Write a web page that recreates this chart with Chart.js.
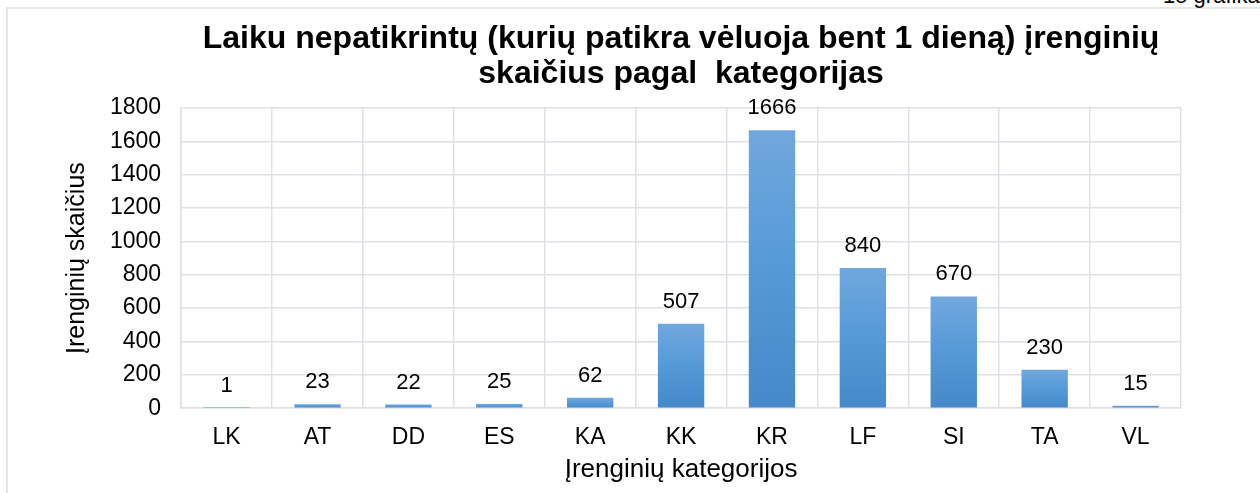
<!DOCTYPE html>
<html>
<head>
<meta charset="utf-8">
<script src="https://cdn.jsdelivr.net/npm/chart.js@4"></script>
<style>
  html, body { margin: 0; padding: 0; background: #fff; overflow: hidden; }
  #wrap { position: relative; width: 1260px; height: 493px; }
  #frame { position: absolute; left: 6px; top: 7px; width: 1300px; height: 600px; border: 2px solid #e3e6ea; box-sizing: border-box; }
  #note { position: absolute; left: 1163px; top: -17px; font: 22px "Liberation Sans", Arial, sans-serif; color: #000; white-space: nowrap; }
  canvas { position: absolute; left: 0; top: 0; }
</style>
</head>
<body>
<div id="wrap">
  <div id="frame"></div>
  <div id="note">15 grafikas</div>
  <canvas id="myChart" width="1260" height="493"></canvas>
</div>
<script>
// Kategorijos ir reikšmės
const kategorijos = ['LK', 'AT', 'DD', 'ES', 'KA', 'KK', 'KR', 'LF', 'SI', 'TA', 'VL'];
const reiksmes = [1, 23, 22, 25, 62, 507, 1666, 840, 670, 230, 15];
const yTicks = [0, 200, 400, 600, 800, 1000, 1200, 1400, 1600, 1800];
const pavadinimas = ['Laiku nepatikrintų (kurių patikra vėluoja bent 1 dieną) įrenginių', 'skaičius pagal  kategorijas'];

const fontas = '"Liberation Sans", Arial, sans-serif';

// Gradientas kiekvienam stulpeliui atskirai
function stulpelioSpalva(context) {
    const chart = context.chart;
    const y = chart.scales.y;
    if (!y || context.parsed === undefined) return '#5b9bd5';
    const top = y.getPixelForValue(context.parsed.y);
    const bottom = y.getPixelForValue(0);
    if (!isFinite(top) || Math.abs(bottom - top) < 1) return '#5b9bd5';
    const g = chart.ctx.createLinearGradient(0, top, 0, bottom);
    g.addColorStop(0, '#71a7dd');
    g.addColorStop(0.5, '#5599d8');
    g.addColorStop(1, '#4688c9');
    return g;
}

// Reikšmių užrašai virš stulpelių
const reiksmiuZymos = {
    id: 'reiksmiuZymos',
    afterDatasetsDraw(chart) {
        const ctx = chart.ctx;
        const meta = chart.getDatasetMeta(0);
        ctx.save();
        ctx.font = '22px ' + fontas;
        ctx.fillStyle = '#000';
        ctx.textAlign = 'center';
        ctx.textBaseline = 'alphabetic';
        meta.data.forEach(function(bar, i) {
            ctx.fillText(String(reiksmes[i]), bar.x, bar.y - 16);
        });
        ctx.restore();
    }
};

// Pavadinimas centruojamas virš braižymo srities (kaip Excel)
const pavadinimoPlugin = {
    id: 'pavadinimas',
    afterDraw(chart) {
        const ctx = chart.ctx;
        const area = chart.chartArea;
        const cx = (area.left + area.right) / 2;
        ctx.save();
        ctx.font = 'bold 32px ' + fontas;
        ctx.fillStyle = '#000';
        ctx.textAlign = 'center';
        ctx.textBaseline = 'alphabetic';
        pavadinimas.forEach(function(eil, i) {
            ctx.fillText(eil, cx, 48 + i * 35);
        });
        ctx.restore();
    }
};

const ctx = document.getElementById('myChart').getContext('2d');
const myChart = new Chart(ctx, {
    type: 'bar',
    data: {
        labels: kategorijos,
        datasets: [{
            data: reiksmes,
            backgroundColor: stulpelioSpalva,
            borderWidth: 0,
            categoryPercentage: 1,
            barPercentage: 0.51
        }]
    },
    options: {
        responsive: false,
        animation: false,
        layout: { padding: { left: 62, right: 79, top: 108, bottom: 8 } },
        plugins: {
            legend: { display: false },
            tooltip: { enabled: false },
            title: { display: false }
        },
        scales: {
            x: {
                grid: { color: '#dde1e6', lineWidth: 1.5, drawTicks: false, offset: true },
                border: { color: '#dde1e6', width: 1.5 },
                ticks: { color: '#000', font: { family: fontas, size: 23 }, padding: 16 },
                title: {
                    display: true,
                    text: 'Įrenginių kategorijos',
                    color: '#000',
                    font: { family: fontas, size: 26 },
                    padding: { top: -14, bottom: 0 }
                }
            },
            y: {
                min: 0,
                max: 1800,
                afterBuildTicks: function(axis) {
                    axis.ticks = yTicks.map(v => ({ value: v }));
                },
                grid: { color: '#dde1e6', lineWidth: 1.5, drawTicks: false },
                border: { color: '#dde1e6', width: 1.5 },
                ticks: {
                    color: '#000',
                    font: { family: fontas, size: 23 },
                    padding: 20,
                    callback: function(value) { return String(value); }
                },
                title: {
                    display: true,
                    text: 'Įrenginių skaičius',
                    color: '#000',
                    font: { family: fontas, size: 25 },
                    padding: { top: 0, bottom: -2 }
                }
            }
        }
    },
    plugins: [reiksmiuZymos, pavadinimoPlugin]
});
</script>
</body>
</html>
